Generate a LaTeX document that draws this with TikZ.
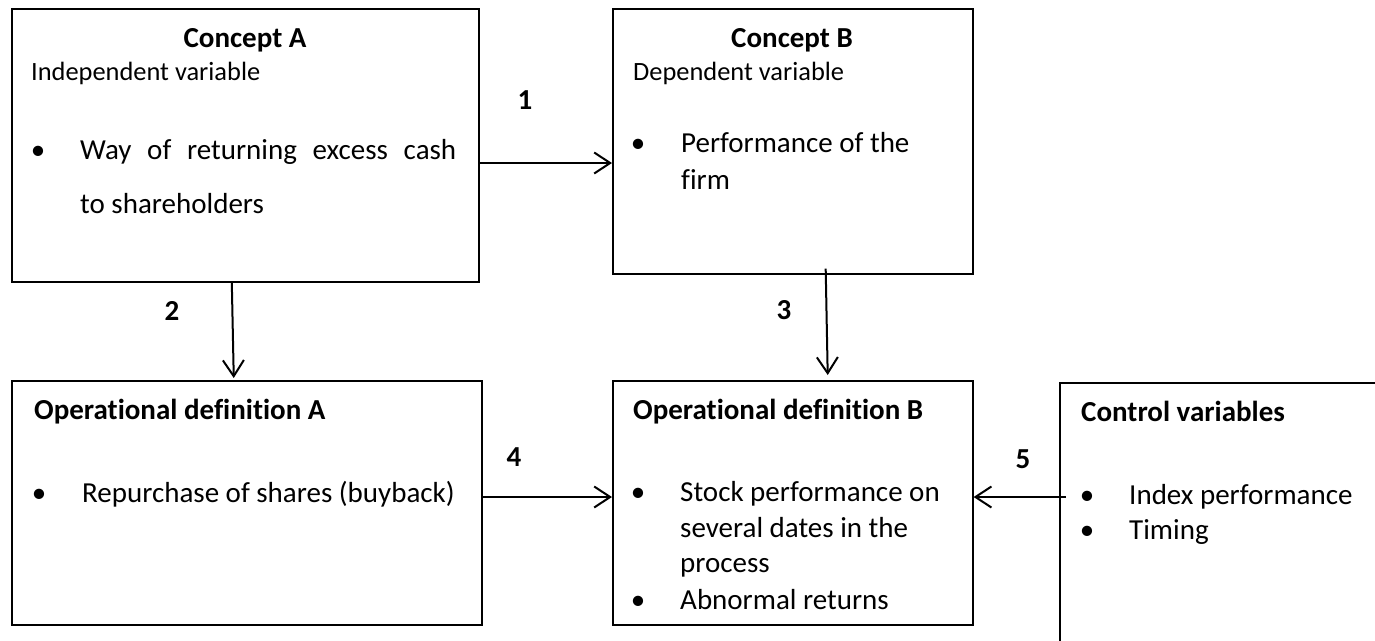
\documentclass[tikz,border=0pt]{standalone}
\usepackage{fontspec}
\setmainfont{Carlito}[Ligatures={NoCommon}]
\usetikzlibrary{arrows.meta}

\begin{document}
\begin{tikzpicture}[
    x=1pt, y=-1pt,
    box/.style={draw, line width=1.6pt, rectangle, inner sep=0pt, anchor=north west},
    txt/.style={inner sep=0pt, anchor=base west, font=\fontsize{29}{35}\selectfont},
    subtxt/.style={inner sep=0pt, anchor=base west, font=\fontsize{26.4}{32}\selectfont},
    head/.style={inner sep=0pt, anchor=base west, font=\fontsize{29}{35}\selectfont\bfseries},
    dot/.style={inner sep=0pt, anchor=base, font=\fontsize{29}{35}\selectfont},
    num/.style={inner sep=0pt, anchor=center, font=\fontsize{29}{35}\selectfont\bfseries},
    conn/.style={line width=2pt, -{Straight Barb[length=16pt, width=21pt, line width=2pt]}}
  ]
  \useasboundingbox (0,0) rectangle (1375,640);
  \clip (0,0) rectangle (1375,640);

  % frames
  \node[box, minimum width=467pt, minimum height=273pt] (cA) at (11,8) {};
  \node[box, minimum width=360pt, minimum height=265pt] (cB) at (612,8) {};
  \node[box, minimum width=470pt, minimum height=244pt] (oA) at (11,380) {};
  \node[box, minimum width=360pt, minimum height=244pt] (oB) at (612,380) {};
  \node[box, minimum width=340pt, minimum height=300pt] (ctl) at (1059,382) {};

  % Concept A
  \node[head, anchor=base] (cAh) at (245,47) {Concept A};
  \node[subtxt] (cAs) at (31,80) {Independent variable};
  \node[dot] (cAd) at (38,159) {•};
  \node[txt] (cA1) at (80,159) {\makebox[376pt][l]{Way\hfill of\hfill returning\hfill excess\hfill cash}};
  \node[txt] (cA2) at (80,213) {to shareholders};

  % Concept B
  \node[head, anchor=base] (cBh) at (792,47) {Concept B};
  \node[subtxt] (cBs) at (633,80) {Dependent variable};
  \node[dot] (cBd) at (638,152) {•};
  \node[txt] (cB1) at (681,152) {Performance of the};
  \node[txt] (cB2) at (681,189) {firm};

  % Operational definition A
  \node[head] (oAh) at (34,419) {Operational definition A};
  \node[dot] (oAd) at (39,502) {•};
  \node[txt] (oA1) at (82,502) {Repurchase of shares (buyback)};

  % Operational definition B
  \node[head] (oBh) at (633,419) {Operational definition B};
  \node[dot] (oBd1) at (638,501) {•};
  \node[txt] (oB1) at (680,501) {Stock performance on};
  \node[txt] (oB2) at (680,537) {several dates in the};
  \node[txt] (oB3) at (680,572) {process};
  \node[dot] (oBd2) at (638,609) {•};
  \node[txt] (oB4) at (680,609) {Abnormal returns};

  % Control variables
  \node[head] (ctlh) at (1081,421) {Control variables};
  \node[dot] (ctld1) at (1087,504) {•};
  \node[txt] (ctl1) at (1129,504) {Index performance};
  \node[dot] (ctld2) at (1087,539) {•};
  \node[txt] (ctl2) at (1129,539) {Timing};

  % relation numbers
  \node[num] (n1) at (525,100) {1};
  \node[num] (n2) at (172,311) {2};
  \node[num] (n3) at (784,310) {3};
  \node[num] (n4) at (514,457) {4};
  \node[num] (n5) at (1023,459) {5};

  % connectors
  \coordinate (r1) at (0,163);
  \coordinate (r4) at (0,497);
  \draw[conn] (cA.east |- r1) -- (cB.west |- r1);
  \draw[conn, shorten >=2pt] ([xshift=-13.5pt]cA.south) -- ([xshift=-13pt]oA.north);
  \draw[conn, shorten <=-6pt, shorten >=5pt] ([xshift=33pt]cB.south) -- ([xshift=35pt]oB.north);
  \draw[conn] (oA.east |- r4) -- (oB.west |- r4);
  \draw[conn, shorten <=-7pt] (ctl.west |- r4) -- (oB.east |- r4);
\end{tikzpicture}
\end{document}
